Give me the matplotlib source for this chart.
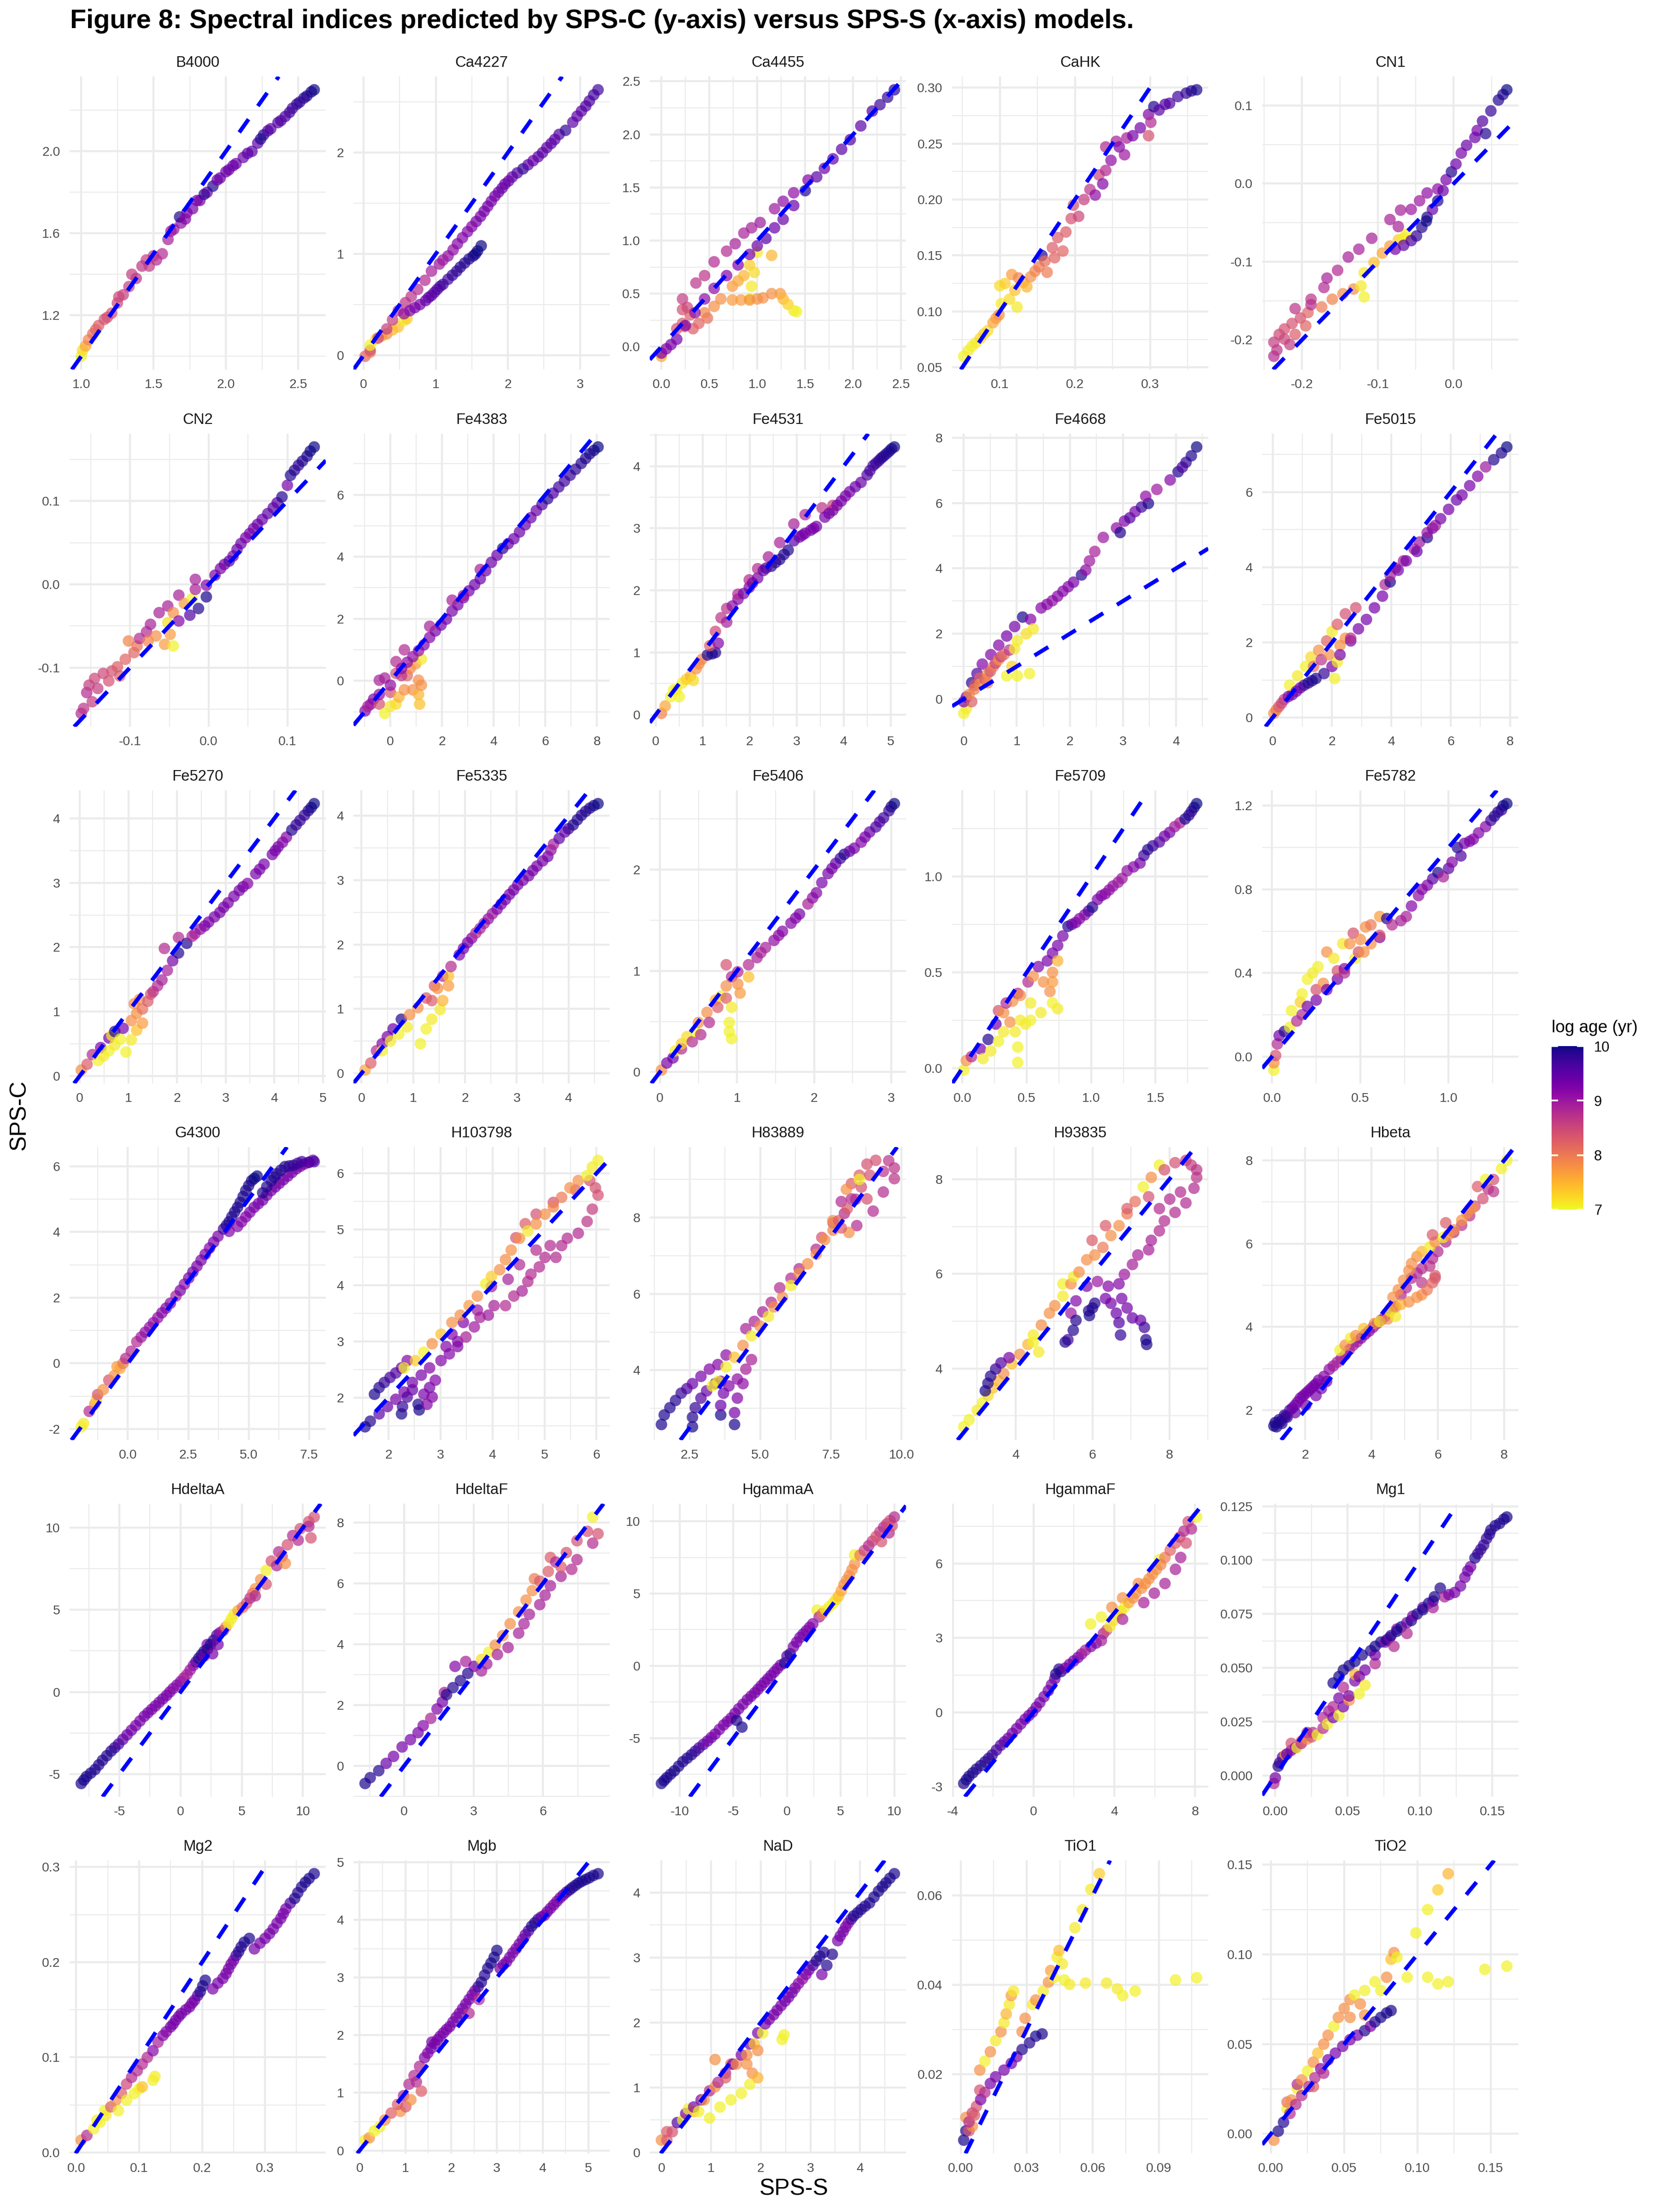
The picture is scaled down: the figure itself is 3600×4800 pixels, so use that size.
import numpy as np
import matplotlib
matplotlib.use("Agg")
import matplotlib.pyplot as plt
from matplotlib.colors import Normalize
from matplotlib.cm import ScalarMappable

plt.rcParams['font.family'] = ['Liberation Sans', 'DejaVu Sans']

# ---- data: (SPS-S, SPS-C, log age) ----
b4000 = [(1.00,1.00,7.05),(1.01,1.03,7.2),(1.03,1.05,7.6),(1.05,1.08,7.9),(1.08,1.11,8.1),(1.12,1.15,8.3),
         (1.16,1.18,8.4),(1.21,1.21,8.4),(1.25,1.26,8.5),(1.29,1.30,8.6),(1.33,1.34,8.6),(1.38,1.38,8.7),
         (1.42,1.44,8.7),(1.47,1.44,8.6),(1.52,1.47,8.8),(1.56,1.50,8.8),(1.60,1.57,8.9),(1.64,1.62,9.0),
         (1.69,1.65,9.1),(1.68,1.68,9.9),(1.73,1.70,9.2),(1.77,1.72,9.3),(1.82,1.76,9.3),(1.87,1.80,9.4),
         (1.91,1.83,9.9),(1.96,1.87,9.4),(2.02,1.91,9.4),(2.07,1.94,9.4),(2.12,1.97,9.4),(2.18,2.00,9.5),
         (2.22,2.04,9.5),(2.26,2.08,9.9),(2.31,2.11,9.5),(2.36,2.14,9.6),(2.41,2.17,9.6),(2.46,2.21,9.7),
         (2.51,2.24,9.8),(2.56,2.27,9.9),(2.61,2.30,10.0),
         (1.45,1.47,8.6),(1.50,1.49,8.7),(1.35,1.40,8.6),(1.26,1.29,8.5),(1.18,1.19,8.4),(1.10,1.13,8.2),
         (1.62,1.61,9.0),(1.72,1.67,9.2),(1.80,1.76,9.3),(1.85,1.79,9.8),(1.94,1.86,9.4),(2.00,1.90,9.4),
         (2.05,1.93,9.4),(2.15,1.99,9.5),(2.24,2.06,9.9),(2.29,2.10,9.6),(2.38,2.15,9.6),(2.44,2.19,9.7),
         (2.49,2.23,9.8),(2.54,2.26,9.85),(2.59,2.29,9.95)]

ca4227 = [(0.02,-0.01,8.2),(0.09,0.03,8.0),(0.09,0.05,8.4),(0.09,0.10,7.05),(0.17,0.16,7.2),(0.25,0.19,7.6),
          (0.32,0.21,7.8),(0.40,0.25,7.5),(0.48,0.28,7.4),(0.56,0.34,7.1),(0.60,0.36,7.3),
          (0.20,0.17,8.5),(0.32,0.26,8.6),(0.40,0.35,8.6),(0.48,0.44,8.7),(0.58,0.52,8.7),(0.66,0.58,8.7),
          (0.75,0.65,8.8),(0.85,0.74,8.8),(0.94,0.83,8.9),(1.05,0.90,9.0),(1.17,0.98,9.1),(1.30,1.10,9.2),
          (1.44,1.22,9.2),(1.56,1.32,9.3),(1.67,1.42,9.3),(1.77,1.52,9.3),(1.87,1.61,9.4),(1.96,1.69,9.4),
          (2.06,1.76,9.4),(2.21,1.84,9.9),(2.35,1.92,9.4),(2.48,2.00,9.5),(2.60,2.09,9.5),(2.71,2.18,9.6),
          (2.80,2.22,9.8),(2.90,2.30,9.5),(3.02,2.41,9.5),(3.13,2.51,9.6),(3.25,2.62,9.7),
          (1.10,0.94,9.0),(1.24,1.04,9.1),(1.37,1.16,9.2),(1.50,1.27,9.2),(1.62,1.37,9.3),(1.72,1.47,9.3),
          (1.82,1.57,9.3),(1.92,1.65,9.4),(2.01,1.72,9.4),(2.13,1.80,9.6),(2.28,1.88,9.5),(2.42,1.96,9.5),
          (2.54,2.05,9.5),(2.65,2.13,9.5),(2.96,2.36,9.5),(3.08,2.46,9.6),(3.19,2.57,9.7),
          (0.56,0.41,9.1),(0.64,0.44,9.2),(0.71,0.47,9.3),(0.78,0.50,9.3),(0.86,0.54,9.4),(0.90,0.57,9.5),
          (0.94,0.59,9.5),(0.98,0.62,9.5),(1.02,0.65,9.6),(1.06,0.68,9.6),(1.10,0.70,9.7),(1.17,0.75,9.7),
          (1.23,0.79,9.8),(1.29,0.83,9.8),(1.34,0.87,9.85),(1.40,0.91,9.9),(1.46,0.95,9.9),(1.52,0.98,9.95),
          (1.55,1.00,9.95),(1.58,1.03,10.0),(1.63,1.08,10.0)]

ca4455 = [(0.00,-0.09,7.6),(0.00,-0.06,9.3),(0.05,-0.02,9.2),(0.10,0.02,9.3),(0.16,0.07,9.3),
          (0.16,0.17,8.4),(0.22,0.22,8.3),(0.24,0.19,8.2),(0.33,0.17,8.3),(0.39,0.22,8.2),(0.48,0.27,8.1),
          (0.22,0.35,8.4),(0.27,0.37,8.5),(0.30,0.30,8.3),
          (0.45,0.32,7.9),(0.55,0.38,7.8),(0.62,0.45,7.8),(0.74,0.57,7.7),(0.80,0.62,7.6),(0.86,0.67,7.5),
          (0.92,0.77,7.3),(1.00,0.89,7.1),(1.15,0.86,7.5),(0.97,0.70,7.2),(0.94,0.57,7.1),(0.92,0.45,7.05),
          (0.74,0.44,7.7),(0.83,0.44,7.7),(0.92,0.44,7.8),(1.00,0.45,7.8),(1.06,0.46,7.8),(1.15,0.50,7.8),
          (1.24,0.50,7.7),(1.27,0.45,7.5),(1.32,0.40,7.3),(1.38,0.34,7.1),(1.41,0.33,7.05),
          (0.22,0.45,8.6),(0.36,0.60,8.7),(0.45,0.67,8.7),(0.55,0.80,8.8),(0.68,0.90,8.8),(0.77,0.97,8.9),
          (0.86,1.07,8.9),(0.94,1.12,8.9),(1.03,1.17,9.0),(1.18,1.30,9.0),(1.27,1.37,9.1),(1.38,1.45,9.1),
          (1.53,1.57,9.2),
          (0.25,0.20,9.2),(0.35,0.32,9.1),(0.45,0.45,9.1),(0.55,0.55,9.1),(0.68,0.67,9.2),(0.80,0.77,9.2),
          (0.92,0.87,9.3),(1.00,0.95,9.4),(1.09,1.02,9.5),(1.18,1.12,9.4),(1.27,1.20,9.4),(1.38,1.33,9.4),
          (1.50,1.47,9.9),(1.62,1.60,9.5),(1.70,1.68,9.4),(1.79,1.77,9.4),(1.88,1.86,9.5),(1.97,1.95,9.6),
          (2.08,2.08,9.5),(2.20,2.22,9.6),(2.28,2.28,9.7),(2.36,2.35,9.8),(2.43,2.42,9.9)]

cahk = [(0.052,0.060,7.05),(0.058,0.065,7.1),(0.063,0.069,7.05),(0.068,0.072,7.1),(0.074,0.076,7.2),
        (0.079,0.080,7.3),(0.084,0.083,7.2),(0.091,0.090,7.6),(0.095,0.094,7.7),(0.099,0.097,7.8),
        (0.102,0.107,7.1),(0.100,0.123,7.2),(0.107,0.125,7.3),(0.113,0.111,7.2),(0.120,0.119,7.4),
        (0.123,0.104,7.1),(0.116,0.133,7.7),(0.125,0.130,7.9),(0.131,0.126,7.6),(0.136,0.122,7.5),
        (0.141,0.131,7.8),(0.147,0.136,7.9),(0.152,0.140,8.0),(0.156,0.150,9.9),(0.160,0.145,8.1),
        (0.163,0.135,8.0),(0.170,0.157,8.3),(0.173,0.148,8.2),(0.177,0.166,8.3),(0.184,0.154,8.2),
        (0.188,0.171,8.3),(0.195,0.183,8.4),(0.198,0.195,8.4),(0.205,0.185,8.5),(0.212,0.200,8.6),
        (0.220,0.209,8.7),(0.227,0.204,9.1),(0.232,0.222,8.5),(0.237,0.214,9.2),(0.241,0.226,8.8),
        (0.241,0.247,8.8),(0.248,0.235,9.1),(0.255,0.252,8.9),(0.259,0.247,9.2),(0.266,0.240,9.0),
        (0.269,0.255,8.9),(0.277,0.257,9.3),(0.287,0.264,9.3),(0.298,0.257,8.4),(0.298,0.276,9.2),
        (0.301,0.269,8.8),(0.305,0.283,9.9),(0.312,0.280,9.5),(0.320,0.285,9.6),(0.326,0.286,9.6),
        (0.337,0.292,9.7),(0.348,0.295,9.8),(0.355,0.297,9.9),(0.362,0.298,9.95)]

cn1 = [(-0.237,-0.221,8.8),(-0.233,-0.213,8.7),(-0.237,-0.203,8.6),(-0.230,-0.193,8.5),(-0.223,-0.186,8.4),
       (-0.223,-0.199,8.5),(-0.216,-0.206,8.6),(-0.213,-0.179,8.4),(-0.209,-0.193,8.3),(-0.202,-0.172,8.4),
       (-0.195,-0.182,8.2),(-0.192,-0.165,8.2),(-0.188,-0.155,8.8),(-0.209,-0.160,8.7),(-0.188,-0.148,8.7),
       (-0.174,-0.158,8.0),(-0.160,-0.148,7.9),(-0.146,-0.141,7.8),(-0.132,-0.135,7.8),(-0.122,-0.131,7.1),
       (-0.118,-0.145,7.05),(-0.118,-0.114,7.1),(-0.105,-0.101,7.4),(-0.094,-0.089,7.6),(-0.084,-0.080,7.7),
       (-0.073,-0.072,7.3),(-0.063,-0.065,7.05),(-0.066,-0.070,7.1),
       (-0.171,-0.133,8.8),(-0.167,-0.121,8.9),(-0.153,-0.111,8.8),(-0.139,-0.094,8.9),(-0.125,-0.084,8.9),
       (-0.108,-0.070,8.9),(-0.084,-0.046,8.9),(-0.073,-0.055,8.9),(-0.070,-0.034,8.9),(-0.056,-0.033,9.0),
       (-0.045,-0.022,9.0),(-0.035,-0.012,9.1),(-0.021,-0.007,9.1),
       (-0.077,-0.084,9.3),(-0.066,-0.079,9.5),(-0.056,-0.073,9.6),(-0.049,-0.067,9.8),(-0.042,-0.056,9.9),
       (-0.036,-0.048,10.0),(-0.035,-0.043,9.95),
       (-0.028,-0.033,9.4),(-0.021,-0.022,9.9),(-0.014,-0.009,9.4),(-0.010,0.005,9.3),(-0.003,0.015,9.9),
       (0.003,0.025,9.4),(0.010,0.039,9.3),(0.017,0.049,9.4),(0.028,0.059,9.4),(0.031,0.068,9.3),
       (0.042,0.064,9.9),(0.038,0.080,9.6),(0.049,0.093,9.8),(0.059,0.107,9.9),(0.065,0.114,9.9),
       (0.070,0.120,10.0)]

cn2 = [(-0.162,-0.155,8.8),(-0.159,-0.149,8.7),(-0.148,-0.141,8.6),(-0.155,-0.130,8.8),(-0.152,-0.121,8.6),
       (-0.145,-0.113,8.5),(-0.141,-0.125,8.6),(-0.134,-0.107,8.5),(-0.127,-0.116,8.4),(-0.123,-0.104,8.4),
       (-0.116,-0.099,8.3),(-0.113,-0.110,8.3),(-0.106,-0.090,8.2),(-0.102,-0.068,7.9),(-0.095,-0.082,8.2),
       (-0.091,-0.074,8.1),(-0.088,-0.065,8.8),(-0.079,-0.057,8.8),(-0.077,-0.068,7.9),(-0.074,-0.048,8.9),
       (-0.067,-0.062,7.8),(-0.063,-0.034,8.9),(-0.056,-0.072,7.7),(-0.052,-0.046,7.2),(-0.052,-0.026,8.9),
       (-0.049,-0.060,7.7),(-0.045,-0.074,7.05),(-0.045,-0.034,7.8),(-0.038,-0.013,8.9),(-0.038,-0.044,9.2),
       (-0.031,-0.023,7.7),(-0.024,-0.037,9.6),(-0.021,-0.017,7.05),(-0.017,-0.006,8.9),(-0.017,0.006,8.9),
       (-0.013,-0.029,9.9),(-0.003,-0.015,9.95),(-0.003,-0.001,9.2),(0.008,0.011,9.3),(0.015,0.019,9.3),
       (0.020,0.024,9.3),(0.026,0.028,9.6),(0.031,0.034,9.3),(0.036,0.042,9.4),(0.041,0.049,9.4),
       (0.047,0.056,9.3),(0.052,0.061,9.3),(0.057,0.067,9.3),(0.062,0.072,9.4),(0.068,0.078,9.4),
       (0.075,0.085,9.5),(0.082,0.092,9.5),(0.087,0.098,9.5),(0.093,0.105,9.9),(0.100,0.119,9.3),
       (0.104,0.131,9.9),(0.109,0.137,9.9),(0.114,0.143,9.8),(0.119,0.148,9.9),(0.125,0.154,9.9),
       (0.129,0.160,10.0),(0.134,0.165,10.0)]

fe4383 = [(-0.98,-0.97,9.2),(-0.87,-0.82,8.9),(-0.76,-0.75,9.0),(-0.65,-0.59,9.2),(-0.43,-0.75,8.4),
          (-0.43,-0.44,9.1),(-0.43,0.02,8.9),(-0.22,0.09,8.9),(-0.22,-1.05,7.05),(0.00,-0.82,7.1),
          (0.22,-0.75,7.2),(0.00,-0.37,8.4),(0.00,-0.14,9.1),(0.33,-0.52,7.5),(0.54,-0.29,7.8),
          (0.87,-0.29,7.8),(1.09,-0.44,7.5),(1.13,-0.75,7.4),(1.20,-0.14,7.8),(1.09,0.02,7.8),
          (0.65,0.17,8.2),(0.22,0.24,8.4),(0.43,0.17,8.7),(0.76,0.40,7.9),(0.98,0.55,7.7),(1.20,0.70,7.1),
          (0.22,0.62,8.8),(0.54,1.00,8.8),(0.43,0.40,9.1),(0.65,0.60,9.1),
          (0.87,0.78,9.1),(1.09,0.97,9.1),(1.30,1.16,9.2),(1.52,1.40,9.2),(1.74,1.61,9.3),(1.96,1.80,9.3),
          (2.17,1.99,9.3),(2.39,2.25,9.3),(2.61,2.45,9.3),(2.83,2.68,9.3),(3.04,2.90,9.3),(3.26,3.10,9.4),
          (3.48,3.29,9.4),(3.69,3.55,9.4),(3.91,3.82,9.4),(4.13,4.05,9.4),(4.35,4.27,9.9),(4.56,4.42,9.4),
          (4.78,4.58,9.4),(5.00,4.80,9.4),(5.22,5.03,9.4),(5.44,5.26,9.4),(5.65,5.49,9.4),(5.87,5.68,9.6),
          (6.09,5.87,9.9),(6.30,6.05,9.6),(6.52,6.25,9.7),(6.74,6.44,9.7),(6.96,6.63,9.8),(7.17,6.82,9.85),
          (7.39,7.01,9.9),(7.56,7.17,9.9),(7.72,7.32,9.95),(7.88,7.43,9.95),(8.04,7.54,10.0),
          (1.52,1.76,8.9),(2.39,2.60,8.9),(3.48,3.59,8.9),(2.83,2.75,9.0)]

fe4531 = [(0.12,0.02,7.9),(0.20,0.14,7.6),(0.32,0.29,7.05),(0.38,0.40,7.05),(0.44,0.40,7.1),(0.50,0.29,7.05),
          (0.56,0.51,7.1),(0.65,0.57,7.3),(0.74,0.62,7.5),(0.80,0.55,7.2),(0.86,0.74,7.8),(0.92,0.82,7.8),
          (0.98,0.89,7.9),(1.10,0.96,9.9),(1.20,0.98,9.95),(1.27,1.00,9.9),(1.15,1.11,8.3),(1.27,1.34,8.5),
          (1.33,1.15,9.2),(1.39,1.56,8.7),(1.51,1.49,8.9),(1.51,1.71,8.7),(1.63,1.75,9.1),(1.75,1.86,9.2),
          (1.75,1.94,8.8),(1.87,1.95,9.3),(1.99,2.05,9.3),(1.99,2.17,8.8),(2.17,2.20,9.3),(2.17,2.35,8.8),
          (2.29,2.32,9.4),(2.40,2.54,8.9),(2.46,2.39,9.9),(2.55,2.45,9.8),(2.64,2.50,9.9),(2.64,2.77,8.9),
          (2.82,2.65,9.9),(2.94,2.80,9.5),(2.94,3.07,8.9),(3.06,2.86,9.4),(3.18,2.92,9.3),(3.18,3.22,8.8),
          (3.30,2.97,9.3),(3.42,3.03,9.3),(3.54,3.33,8.7),(3.60,3.18,9.3),(3.77,3.29,9.3),(3.77,3.37,8.6),
          (3.95,3.44,9.3),(4.13,3.59,9.3),(4.25,3.67,9.4),(4.37,3.74,9.4),(4.50,3.86,9.6),(4.63,4.01,9.7),
          (4.75,4.09,9.8),(4.85,4.16,9.9),(4.97,4.24,9.95),(5.08,4.31,10.0),
          (2.06,2.12,9.3),(2.35,2.36,9.6),(2.73,2.58,9.9),(3.12,2.89,9.3),(3.36,3.00,9.3),(3.69,3.24,9.3),
          (3.86,3.37,9.3),(4.04,3.52,9.3),(4.56,3.93,9.65),(4.69,4.05,9.75),(4.80,4.13,9.85),(4.91,4.20,9.9),
          (5.02,4.28,9.95)]

fe4668 = [(0.00,-0.44,7.05),(0.05,-0.29,7.1),(0.00,-0.08,9.2),(0.05,0.06,9.3),(0.15,-0.08,8.3),(0.10,0.14,7.8),
          (0.15,0.50,9.9),(0.20,0.42,8.4),(0.20,0.30,8.0),(0.25,0.78,9.6),(0.30,0.64,8.2),(0.30,0.45,7.9),
          (0.35,1.07,9.2),(0.40,0.60,8.3),(0.45,0.78,7.8),(0.45,0.50,7.9),(0.50,0.85,8.4),(0.51,1.36,9.2),
          (0.56,1.00,8.0),(0.60,1.10,8.5),(0.66,1.21,7.8),(0.66,1.65,9.2),(0.70,1.30,8.6),(0.76,1.36,8.1),
          (0.81,0.71,7.05),(0.81,1.93,9.3),(0.86,1.50,8.7),(0.91,1.00,7.3),(0.96,1.54,7.1),(0.96,2.22,9.3),
          (1.01,1.79,7.1),(1.01,0.71,7.05),(1.11,2.51,9.95),(1.18,2.00,7.2),(1.24,0.78,7.05),(1.26,2.44,9.2),
          (1.31,2.15,7.1),(1.46,2.79,9.2),(1.57,2.90,9.2),(1.67,3.01,9.1),(1.77,3.15,9.2),(1.87,3.30,9.2),
          (1.97,3.44,9.2),(2.07,3.58,9.3),(2.22,3.80,9.9),(2.30,3.95,9.1),(2.37,4.23,9.0),(2.47,4.52,8.9),
          (2.63,4.95,9.0),(2.88,5.24,9.1),(2.95,5.10,9.9),(3.03,5.45,9.2),(3.13,5.55,9.6),(3.23,5.74,9.3),
          (3.35,5.88,9.7),(3.48,5.99,9.95),(3.43,6.21,9.1),(3.64,6.42,9.0),(3.89,6.71,9.2),(4.04,6.96,9.9),
          (4.12,7.10,9.6),(4.19,7.25,9.8),(4.29,7.45,9.9),(4.39,7.72,10.0)]

fe5015 = [(0.04,0.11,7.8),(0.12,0.20,8.0),(0.21,0.29,8.3),(0.30,0.38,8.5),(0.39,0.48,8.6),(0.53,0.56,9.2),
          (0.66,0.61,9.3),(0.57,0.86,7.05),(0.80,0.70,9.3),(0.93,0.79,9.4),(0.84,1.11,7.1),(1.06,0.86,9.7),
          (1.20,0.92,9.9),(1.11,1.36,7.05),(1.33,0.98,9.9),(1.46,1.04,9.95),(1.29,1.61,7.2),(1.38,1.36,8.1),
          (1.55,1.79,7.8),(1.64,1.54,8.7),(1.73,1.17,9.8),(1.82,2.04,8.2),(1.91,1.67,7.8),(2.00,2.29,7.1),
          (2.00,1.36,9.3),(2.09,1.04,7.05),(2.18,1.48,7.1),(2.18,2.48,8.3),(2.27,1.92,7.8),(2.27,1.67,9.3),
          (2.45,2.11,7.8),(2.45,2.76,8.4),(2.63,2.04,9.3),(2.63,2.11,8.8),(2.80,2.92,8.4),(2.89,2.36,9.3),
          (3.16,2.61,9.3),(3.43,2.92,9.3),(3.70,3.23,9.3),(3.79,3.54,8.8),(3.96,3.61,9.9),(3.96,3.79,8.9),
          (4.14,3.98,8.9),(4.23,3.92,9.3),(4.41,4.17,8.9),(4.50,4.17,9.3),(4.77,4.48,8.9),(4.86,4.42,9.4),
          (4.95,4.67,9.0),(5.21,4.79,9.9),(5.21,4.92,9.0),(5.39,5.04,9.3),(5.48,5.11,9.0),(5.66,5.29,9.3),
          (5.93,5.54,9.3),(6.20,5.79,9.4),(6.38,5.92,9.3),(6.64,6.17,9.3),(6.91,6.42,9.2),(7.18,6.67,9.0),
          (7.45,6.86,9.9),(7.71,7.04,9.9),(7.89,7.20,10.0)]

fe5270 = [(0.03,0.09,7.8),(0.15,0.18,8.3),(0.26,0.33,8.8),(0.38,0.24,7.05),(0.43,0.44,9.2),(0.49,0.31,7.1),
          (0.60,0.59,9.3),(0.60,0.39,7.05),(0.66,0.63,7.1),(0.72,0.69,9.9),(0.72,0.48,7.1),(0.83,0.57,7.05),
          (0.89,0.74,9.3),(0.95,0.37,7.05),(1.06,0.56,7.1),(1.06,0.86,7.8),(1.12,1.12,7.8),(1.17,0.71,7.4),
          (1.17,0.97,7.8),(1.23,1.19,7.8),(1.29,0.82,7.7),(1.29,1.04,8.1),(1.40,1.16,8.3),(1.46,1.27,8.4),
          (1.51,1.31,8.7),(1.60,1.40,8.8),(1.69,1.49,8.9),(1.74,1.98,8.8),(1.80,1.64,8.9),(1.91,1.79,9.3),
          (2.03,1.91,9.9),(2.03,2.15,8.8),(2.20,2.06,9.9),(2.31,2.17,8.9),(2.37,2.21,8.9),(2.48,2.28,9.1),
          (2.57,2.33,9.2),(2.65,2.39,9.3),(2.77,2.47,9.3),(2.88,2.54,9.3),(2.96,2.62,9.3),(3.05,2.69,9.3),
          (3.17,2.79,9.3),(3.28,2.88,9.3),(3.36,2.94,9.3),(3.45,2.99,9.2),(3.62,3.14,9.3),(3.70,3.21,9.3),
          (3.79,3.29,9.3),(3.96,3.44,9.3),(4.02,3.50,9.3),(4.08,3.56,9.3),(4.17,3.63,9.2),(4.25,3.71,9.2),
          (4.36,3.82,9.9),(4.45,3.90,9.8),(4.53,3.97,9.8),(4.62,4.05,9.8),(4.70,4.12,9.9),(4.76,4.17,9.95),
          (4.82,4.23,10.0)]

fe5335 = [(0.07,0.05,7.6),(0.18,0.16,8.3),(0.29,0.35,8.8),(0.40,0.46,9.2),(0.40,0.35,7.05),(0.50,0.57,9.3),
          (0.56,0.50,7.1),(0.61,0.69,9.4),(0.72,0.61,7.05),(0.77,0.84,9.9),(0.88,0.72,7.1),(0.93,0.91,7.8),
          (1.09,1.02,7.8),(1.14,0.46,7.05),(1.25,0.69,7.05),(1.25,1.17,8.3),(1.36,0.84,7.1),(1.36,1.13,8.3),
          (1.41,1.36,8.3),(1.47,1.32,7.8),(1.52,0.99,7.1),(1.57,1.13,7.5),(1.57,1.51,8.8),(1.68,1.36,7.7),
          (1.68,1.51,7.4),(1.73,1.66,8.8),(1.89,1.84,9.2),(1.97,1.94,9.3),(2.05,2.03,9.3),(2.13,2.10,9.2),
          (2.21,2.18,8.8),(2.29,2.25,8.9),(2.37,2.33,8.9),(2.45,2.40,9.1),(2.53,2.48,9.0),(2.62,2.55,9.2),
          (2.70,2.63,9.3),(2.78,2.70,9.3),(2.86,2.78,9.3),(2.94,2.85,9.3),(3.02,2.93,9.3),(3.12,3.00,9.3),
          (3.23,3.07,9.3),(3.31,3.15,9.3),(3.39,3.22,9.3),(3.50,3.30,9.3),(3.60,3.37,9.3),(3.66,3.47,9.1),
          (3.71,3.56,8.9),(3.82,3.65,9.5),(3.93,3.75,9.4),(4.00,3.80,9.7),(4.09,3.86,9.9),(4.17,3.94,9.9),
          (4.25,4.01,9.9),(4.33,4.07,9.9),(4.41,4.12,9.9),(4.49,4.16,9.95),(4.57,4.19,10.0)]

fe5406 = [(0.02,0.02,7.8),(0.09,0.09,9.3),(0.17,0.14,9.3),(0.20,0.21,7.05),(0.28,0.23,8.8),(0.28,0.28,7.3),
          (0.35,0.35,7.2),(0.42,0.30,8.8),(0.46,0.40,7.05),(0.50,0.49,7.8),(0.53,0.37,8.8),(0.61,0.59,7.8),
          (0.64,0.49,8.8),(0.72,0.71,7.5),(0.75,0.64,8.3),(0.79,0.75,7.1),(0.86,0.73,8.3),(0.86,0.85,7.8),
          (0.86,1.06,8.4),(0.90,0.49,7.05),(0.90,0.40,7.05),(0.93,0.33,7.05),(0.93,0.64,7.1),(0.93,0.94,8.8),
          (1.01,0.87,7.8),(1.01,0.99,8.8),(1.04,0.78,7.7),(1.15,0.94,7.4),(1.15,1.06,8.8),(1.26,1.13,8.9),
          (1.31,1.18,8.9),(1.37,1.23,8.9),(1.48,1.30,9.1),(1.54,1.35,9.1),(1.59,1.39,9.2),(1.70,1.47,9.2),
          (1.76,1.52,9.2),(1.81,1.56,9.3),(1.92,1.66,8.9),(1.98,1.72,9.1),(2.03,1.77,9.2),(2.10,1.87,9.3),
          (2.18,1.96,9.3),(2.23,2.01,9.3),(2.28,2.06,9.4),(2.34,2.11,9.7),(2.39,2.15,9.9),(2.46,2.18,9.5),
          (2.52,2.21,9.3),(2.61,2.27,9.2),(2.66,2.32,9.3),(2.72,2.37,9.4),(2.80,2.42,9.6),(2.85,2.47,9.6),
          (2.90,2.51,9.7),(2.97,2.58,9.8),(3.00,2.62,9.9),(3.04,2.65,10.0)]

fe5709 = [(0.01,-0.01,7.05),(0.03,0.04,7.8),(0.07,0.06,8.8),(0.14,0.10,9.3),(0.16,0.05,7.1),(0.20,0.15,9.9),
          (0.22,0.09,7.1),(0.26,0.23,9.3),(0.28,0.14,7.05),(0.28,0.30,8.4),(0.32,0.19,7.1),(0.32,0.29,7.8),
          (0.34,0.34,8.8),(0.37,0.24,7.8),(0.39,0.35,7.8),(0.41,0.19,7.1),(0.43,0.11,7.05),(0.43,0.03,7.05),
          (0.43,0.39,8.8),(0.45,0.38,7.8),(0.45,0.25,7.1),(0.49,0.23,7.1),(0.51,0.45,8.8),(0.53,0.25,7.05),
          (0.53,0.34,7.1),(0.55,0.48,7.8),(0.59,0.53,9.2),(0.61,0.29,7.1),(0.63,0.45,7.8),(0.66,0.56,9.3),
          (0.68,0.40,7.8),(0.70,0.34,7.05),(0.70,0.45,7.7),(0.70,0.50,7.8),(0.70,0.60,9.3),(0.74,0.31,7.1),
          (0.74,0.56,7.5),(0.74,0.64,9.3),(0.78,0.69,9.3),(0.82,0.74,9.9),(0.85,0.75,9.5),(0.88,0.76,9.3),
          (0.91,0.78,9.2),(0.95,0.80,9.2),(0.98,0.82,9.6),(1.01,0.84,9.9),(1.05,0.88,9.3),(1.08,0.90,9.2),
          (1.11,0.91,9.2),(1.14,0.93,9.1),(1.17,0.95,9.1),(1.21,0.97,9.0),(1.24,0.99,9.0),(1.28,1.03,9.1),
          (1.33,1.05,9.2),(1.38,1.07,9.3),(1.41,1.11,9.7),(1.44,1.14,9.9),(1.48,1.16,9.8),(1.53,1.18,9.6),
          (1.57,1.21,9.4),(1.61,1.23,9.3),(1.65,1.26,9.0),(1.69,1.28,8.9),(1.73,1.30,9.9),(1.76,1.32,9.9),
          (1.78,1.34,9.8),(1.80,1.36,9.95),(1.82,1.38,10.0)]

fe5782 = [(0.01,-0.065,7.05),(0.01,-0.03,7.8),(0.02,0.005,8.4),(0.03,0.06,8.8),(0.04,0.10,9.3),(0.07,0.12,9.9),
          (0.10,0.14,7.05),(0.11,0.22,7.05),(0.14,0.17,8.8),(0.16,0.26,7.3),(0.17,0.20,8.8),(0.17,0.30,7.05),
          (0.20,0.24,9.3),(0.20,0.37,7.05),(0.23,0.40,7.1),(0.25,0.27,9.3),(0.25,0.32,8.4),(0.26,0.43,7.05),
          (0.29,0.35,7.8),(0.31,0.32,9.3),(0.31,0.50,7.8),(0.35,0.47,7.1),(0.37,0.37,9.3),(0.37,0.41,8.4),
          (0.40,0.54,7.1),(0.41,0.42,9.2),(0.41,0.40,8.8),(0.44,0.54,7.8),(0.46,0.59,8.4),(0.47,0.47,7.1),
          (0.49,0.50,8.4),(0.50,0.56,7.8),(0.52,0.50,7.8),(0.53,0.62,7.8),(0.56,0.54,7.8),(0.56,0.63,8.0),
          (0.61,0.57,9.3),(0.61,0.58,8.4),(0.61,0.67,7.7),(0.65,0.66,9.9),(0.68,0.63,8.8),(0.73,0.65,8.9),
          (0.76,0.67,8.9),(0.79,0.72,9.2),(0.83,0.77,9.1),(0.85,0.80,9.2),(0.88,0.82,9.2),(0.91,0.85,9.5),
          (0.94,0.88,9.9),(0.97,0.86,8.9),(1.00,0.90,9.5),(1.02,0.93,9.2),(1.05,1.00,9.9),(1.07,0.96,9.6),
          (1.09,1.02,9.3),(1.12,1.03,9.3),(1.14,1.04,9.2),(1.17,1.07,9.2),(1.21,1.10,9.2),(1.24,1.13,9.7),
          (1.26,1.15,9.9),(1.28,1.17,9.85),(1.30,1.18,9.8),(1.31,1.20,9.95),(1.33,1.21,10.0)]

g4300 = [(-1.93,-1.93,7.05),(-1.83,-1.83,7.1),(-1.60,-1.46,8.8),(-1.37,-1.24,7.8),(-1.30,-1.10,7.3),
         (-1.25,-0.95,8.4),(-1.02,-0.80,7.8),(-0.79,-0.51,8.4),(-0.56,-0.37,7.8),(-0.45,-0.10,7.7),
         (-0.32,-0.15,7.6),(-0.20,0.00,8.0),(-0.09,0.15,8.8),(0.14,0.37,8.8),(0.37,0.66,8.8),(0.55,0.80,9.0),
         (0.72,0.95,9.1),(0.90,1.10,9.1),(1.06,1.24,9.1),(1.24,1.39,9.1),(1.41,1.54,9.2),(1.58,1.68,9.2),
         (1.76,1.83,9.2),(1.99,2.05,8.9),(2.17,2.22,9.3),(2.34,2.41,9.1),(2.52,2.60,9.3),(2.69,2.78,9.3),
         (2.86,2.96,9.3),(3.03,3.14,9.3),(3.20,3.32,9.3),(3.38,3.51,9.2),(3.55,3.69,9.3),(3.73,3.87,9.3),
         (3.96,4.09,9.7),(4.08,4.20,9.9),(4.19,4.31,9.9),(4.30,4.46,9.9),(4.42,4.61,9.9),(4.54,4.75,9.95),
         (4.65,4.90,9.95),(4.77,5.08,9.95),(4.88,5.26,9.95),(5.00,5.41,9.95),(5.12,5.56,9.95),(5.23,5.63,10.0),
         (5.35,5.70,10.0),
         (4.19,4.02,9.2),(4.54,4.17,9.2),(4.71,4.31,9.2),(4.88,4.46,9.2),(5.05,4.60,9.25),(5.23,4.75,9.3),
         (5.40,4.86,9.3),(5.58,4.97,9.3),(5.75,5.12,9.3),(5.93,5.26,9.3),(6.10,5.37,9.3),(6.27,5.48,9.3),
         (6.44,5.59,9.3),(6.62,5.70,9.3),(6.79,5.81,9.3),(6.97,5.92,9.3),(7.14,6.00,9.3),(7.31,6.07,9.3),
         (7.48,6.12,9.3),(7.50,6.12,9.5),(7.66,6.18,9.5),(7.71,6.14,9.6),
         (5.58,5.19,9.9),(5.75,5.38,9.9),(5.93,5.56,9.9),(6.05,5.67,9.9),(6.16,5.77,9.9),(6.33,5.88,9.9),
         (6.50,5.99,9.9),(6.68,6.01,9.85),(6.85,6.03,9.8),(7.03,6.09,9.75),(7.20,6.14,9.7)]

h103798 = [(1.73,2.06,9.95),(1.82,2.18,9.9),(1.92,2.27,9.8),(2.03,2.36,9.7),(2.14,2.44,9.6),(2.25,2.53,9.4),
           (2.36,2.66,9.2),
           (1.55,1.48,9.95),(1.65,1.58,9.9),(1.82,1.71,9.5),(1.98,1.84,9.4),(2.14,1.97,9.3),(2.30,2.10,9.3),
           (2.46,2.27,9.3),(2.63,2.40,9.3),(2.79,2.53,9.2),(3.01,2.66,9.2),(3.17,2.78,9.2),(3.33,2.91,9.2),
           (2.25,1.71,9.95),(2.27,1.84,9.8),(2.36,2.01,9.6),(2.46,2.14,9.4),(2.57,1.88,9.9),(2.59,1.78,9.95),
           (2.68,2.06,9.3),(2.79,2.18,9.3),(2.90,2.31,9.2),(2.74,1.88,9.2),(2.84,2.01,9.2),
           (3.11,2.91,9.2),(3.33,3.00,9.2),(3.49,3.08,8.9),(3.65,3.26,9.0),(3.76,3.43,8.9),(3.92,3.47,9.0),
           (4.03,3.64,8.9),(4.25,3.64,8.8),(4.41,3.81,8.8),(4.57,3.90,8.9),(4.68,4.07,8.8),(4.74,4.20,8.8),
           (4.90,4.33,8.8),(5.01,4.50,8.8),(5.22,4.50,8.8),(5.33,4.71,8.8),(5.44,4.84,8.8),(5.65,4.93,8.8),
           (5.82,5.14,8.7),(5.92,5.36,8.6),(6.03,5.61,8.4),(5.98,5.74,8.4),(5.87,5.87,8.4),(5.11,4.71,8.8),
           (4.84,4.63,8.8),(4.52,4.37,8.8),(4.30,4.11,8.9),(3.98,3.98,8.9),(3.71,3.56,9.0),(3.44,3.34,9.2),
           (3.22,3.13,9.2),
           (5.17,5.48,8.4),(4.63,5.10,8.3),(4.84,5.27,8.4),(5.60,5.70,8.3),(4.45,4.85,8.4),
           (2.30,2.53,7.05),(2.52,2.66,7.3),(2.68,2.81,7.05),(2.84,2.96,7.8),(3.01,3.13,7.4),(3.22,3.34,7.8),
           (3.38,3.47,7.8),(3.55,3.64,7.7),(3.71,3.81,7.8),(3.87,4.03,7.05),(3.98,4.16,7.3),(4.14,4.28,7.8),
           (4.25,4.46,7.8),(4.36,4.63,7.8),(4.52,4.84,7.8),(4.68,4.97,7.1),(4.84,5.10,7.8),(5.01,5.27,7.8),
           (5.17,5.40,7.9),(5.33,5.57,8.0),(5.49,5.74,7.8),(5.65,5.87,7.8),(5.82,5.96,7.05),(5.92,6.11,7.1),
           (6.03,6.23,7.05)]

h83889 = [(1.50,2.58,9.95),(1.60,2.83,9.95),(1.80,3.02,9.9),(2.00,3.21,9.9),(2.20,3.40,9.8),(2.40,3.52,9.6),
          (2.60,3.65,9.4),(2.90,3.84,9.3),(3.20,4.03,9.2),(3.50,4.15,9.2),(3.79,4.40,9.1),
          (2.60,2.52,9.95),(2.60,2.77,9.9),(2.70,3.02,9.8),(2.90,3.27,9.6),(3.10,3.46,9.4),(3.40,3.65,9.3),
          (3.60,3.71,9.3),
          (3.60,2.83,9.95),(3.60,3.08,9.4),(3.70,3.40,9.3),(3.89,3.59,9.2),(4.19,3.77,9.1),(4.49,4.03,8.9),
          (4.69,4.28,8.9),
          (4.09,2.58,9.95),(4.09,2.89,9.3),(4.19,3.27,9.2),(4.39,3.65,9.1),
          (4.49,5.09,8.9),(4.79,5.28,8.9),(5.09,5.53,8.9),(5.39,5.78,8.8),(5.69,6.16,8.8),(6.09,6.41,8.8),
          (6.38,6.66,8.8),(6.98,7.17,8.8),(7.18,7.48,8.4),(7.58,7.86,8.5),(7.98,8.11,8.8),(8.38,8.48,8.8),
          (8.58,8.80,8.4),(8.88,9.11,8.4),
          (8.78,9.40,8.4),(9.09,9.50,8.4),(9.55,9.49,8.7),(9.75,9.30,8.7),(9.75,9.02,8.7),(9.36,9.21,8.7),
          (9.36,8.67,8.8),(9.00,8.17,8.8),(8.78,8.49,8.4),(8.23,8.49,8.8),(8.51,9.11,8.3),(8.23,8.89,8.3),
          (8.05,8.74,7.8),(7.87,8.42,8.8),(8.42,7.79,8.8),(8.14,7.61,7.8),(7.87,7.73,8.3),(7.57,7.92,7.8),
          (3.30,3.59,7.05),(3.50,3.71,7.1),(3.79,4.09,7.05),(4.09,4.34,7.4),(4.39,4.65,7.8),(4.69,4.90,7.1),
          (4.99,5.16,7.8),(5.29,5.41,7.1),(5.49,5.66,7.8),(5.79,5.91,7.8),(6.09,6.22,7.1),(6.38,6.54,7.8),
          (6.68,6.79,7.8),(6.98,7.04,7.8),(7.28,7.42,7.8),(7.58,7.67,7.9),(7.78,7.92,8.3),(8.08,8.23,8.3),
          (8.51,9.00,7.05)]

h93835 = [(2.65,2.77,7.05),(2.79,2.92,7.05),(3.00,3.12,7.1),(3.14,3.28,7.05),(3.28,3.43,7.2),(3.41,3.59,7.4),
          (3.55,3.74,7.5),(3.69,3.89,7.8),(3.90,4.10,7.4),(4.11,4.30,7.8),(4.32,4.51,7.5),(4.46,4.71,7.1),
          (4.46,4.56,7.05),(4.60,4.35,7.1),(4.67,4.92,7.8),(4.88,5.17,7.8),(5.02,5.33,7.8),(5.23,5.53,7.1),
          (5.23,5.79,7.05),(5.44,5.79,7.8),(5.51,5.94,7.1),(5.65,6.04,7.8),(5.85,6.30,7.8),(6.06,6.40,7.8),
          (6.27,6.56,8.0),(6.48,6.81,7.8),(6.69,7.02,7.8),(6.90,7.27,8.0),(7.11,7.53,8.1),(7.32,7.84,7.05),
          (7.53,8.04,7.8),(7.74,8.30,7.05),
          (5.99,6.71,8.3),(6.34,7.02,8.3),(6.90,7.38,8.3),(7.46,7.63,8.4),(7.87,8.20,8.4),(8.15,8.35,8.4),
          (8.43,8.40,8.5),(8.57,8.30,8.6),(8.71,8.20,8.7),(8.71,8.04,8.7),(8.64,7.81,8.8),(8.43,7.50,8.8),
          (8.15,7.30,8.8),(7.87,7.12,8.8),(7.74,6.91,8.8),(7.53,6.71,8.9),(7.46,6.51,8.9),(7.18,6.40,8.9),
          (7.04,6.20,8.9),(6.83,5.99,9.0),(6.69,5.79,9.2),(6.41,5.74,9.2),(6.13,5.84,9.0),(5.85,5.74,9.2),
          (5.57,5.43,9.2),(5.44,5.17,9.0),(7.74,7.38,8.8),(8.01,7.58,8.8),(8.29,7.73,8.8),
          (5.57,5.02,9.9),(5.50,4.81,9.9),(5.36,4.61,9.7),(5.29,4.56,9.9),(6.06,5.38,9.9),(5.92,5.12,9.95),
          (5.90,5.22,9.9),(6.00,5.28,9.9),(6.34,5.48,9.3),(6.48,5.38,9.3),(6.62,5.17,9.4),(6.69,4.97,9.6),
          (6.73,4.71,9.8),(6.76,5.48,9.3),(6.90,5.28,9.3),(7.04,5.07,9.4),(7.25,5.02,9.4),(7.35,4.87,9.7),
          (7.39,4.61,9.9),(7.41,4.51,9.95),
          (3.21,3.53,9.95),(3.28,3.69,9.9),(3.35,3.84,9.9),(3.48,3.99,9.8),(3.62,4.12,9.6),(3.83,4.23,9.3)]

hbeta = [(1.06,1.62,9.95),(1.10,1.70,9.95),(1.14,1.60,9.95),(1.22,1.77,9.9),(1.26,1.73,9.9),(1.30,1.68,9.9),
         (1.38,1.88,9.8),(1.42,1.85,9.85),(1.46,1.83,9.8),(1.54,2.00,9.6),(1.62,2.05,9.5),(1.70,2.12,9.3),
         (1.70,1.94,9.4),(1.78,2.20,9.3),(1.86,2.29,9.3),(1.94,2.34,9.3),(2.02,2.40,9.3),(2.02,2.12,9.3),
         (2.10,2.46,9.3),(2.18,2.52,9.3),(2.26,2.58,9.3),(2.33,2.63,9.3),(2.33,2.35,9.3),(2.41,2.72,9.3),
         (2.49,2.52,9.3),(2.57,2.81,9.2),(2.65,2.69,9.3),(2.73,2.98,9.1),(2.85,3.06,9.0),(2.97,3.15,8.9),
         (3.09,3.24,8.9),(3.21,3.33,8.9),(3.33,3.45,8.9),(3.45,3.56,8.9),(3.57,3.64,9.0),(3.69,3.73,9.2),
         (3.81,3.82,9.2),(3.93,3.90,9.2),(4.05,3.99,9.1),(4.17,4.08,8.9),(4.29,4.16,8.9),(4.41,4.25,8.9),
         (4.53,4.36,8.8),(4.65,4.48,8.8),(4.89,4.77,8.8),(5.05,4.94,8.8),(5.21,5.17,8.8),
         (5.37,5.29,8.8),(5.52,5.40,8.8),(5.52,5.06,8.7),(5.76,5.46,8.7),(5.84,5.64,8.8),(5.92,5.17,8.4),
         (6.00,5.81,8.8),(6.24,6.04,8.8),(6.48,6.27,8.8),(6.72,6.44,8.7),(6.96,6.67,8.7),(7.12,6.90,8.4),
         (7.36,7.08,8.4),(7.52,7.31,8.7),(7.68,7.54,8.4),(7.68,7.25,8.7),
         (3.05,3.44,7.05),(3.21,3.56,7.8),(3.37,3.73,7.1),(3.53,3.79,7.8),(3.77,3.96,7.4),(4.09,4.08,7.8),
         (4.25,4.13,7.1),(4.49,4.19,7.8),(4.57,4.37,7.05),(4.73,4.25,7.1),(4.73,4.48,7.8),(4.89,4.54,7.5),
         (5.13,4.60,7.8),(5.37,4.71,7.8),(5.52,4.77,7.8),(5.68,4.89,8.0),(5.84,5.06,8.2),(5.92,5.23,8.3),
         (4.65,4.71,7.8),(4.81,4.89,7.8),(4.97,5.12,7.8),(5.13,5.35,7.8),(5.21,5.52,7.8),(5.37,5.69,7.8),
         (5.52,5.81,7.5),(5.76,5.92,7.1),(5.92,6.04,7.8),(6.16,6.15,7.05),(6.32,6.21,7.8),(6.48,6.33,7.8),
         (6.72,6.56,7.8),(6.88,6.73,7.8),(7.04,6.85,7.8),(7.20,7.37,8.3),(7.44,7.54,7.05),(7.92,7.80,7.05),
         (8.08,8.00,7.05),(5.84,6.21,8.3),(6.24,6.50,8.3)]

hdeltaa = [(-8.12,-5.57,9.95),(-7.90,-5.36,9.95),(-7.69,-5.15,9.95),(-7.34,-4.94,9.95),(-6.99,-4.72,9.9),
           (-6.69,-4.44,9.9),(-6.38,-4.16,9.9),(-6.03,-3.88,9.9),(-5.68,-3.60,9.9),(-5.38,-3.39,9.8),
           (-5.07,-3.17,9.7),(-4.72,-2.89,9.5),(-4.37,-2.61,9.4),(-4.02,-2.33,9.35),(-3.67,-2.05,9.3),
           (-3.32,-1.77,9.3),(-2.97,-1.48,9.3),(-2.67,-1.27,9.3),(-2.36,-1.06,9.3),(-2.06,-0.85,9.3),
           (-1.75,-0.63,9.3),(-1.45,-0.42,9.3),(-1.14,-0.21,9.3),(-0.88,0.00,9.25),(-0.61,0.21,9.2),
           (-0.30,0.42,9.2),(0.00,0.63,9.2),(0.26,0.85,9.0),(0.52,1.06,8.9),(0.78,1.34,9.0),(1.05,1.62,9.1),
           (1.26,1.83,9.5),(1.48,2.05,9.9),(1.70,2.26,9.9),(1.92,2.47,9.9),(1.92,2.19,9.3),(2.18,2.89,9.3),
           (2.20,2.60,9.9),(2.45,2.89,9.9),(2.62,2.33,9.3),(2.70,3.15,9.8),(2.97,3.46,9.7),(3.06,2.89,9.3),
           (3.20,3.60,9.2),(3.49,3.74,9.0),(3.70,3.95,8.0),(3.93,4.16,7.05),(4.15,4.45,7.1),(4.37,4.72,7.1),
           (4.70,4.95,7.6),(5.07,5.15,8.1),(5.40,5.40,8.4),(5.68,5.71,8.8),(5.90,6.00,8.3),(6.11,6.28,7.8),
           (6.11,5.85,8.8),(6.55,6.84,7.8),(6.99,7.40,7.05),(6.99,6.56,8.4),(7.42,7.97,8.4),(7.86,7.69,8.8),
           (8.03,8.53,8.8),(8.30,8.25,8.4),(8.56,7.83,7.8),(8.73,8.96,8.4),(9.17,9.52,8.8),(9.61,9.24,8.8),
           (9.78,9.94,8.4),(10.48,10.37,8.4),(10.48,10.08,8.8),(10.66,9.38,8.4),(10.92,10.65,8.4)]

hdeltaf = [(-1.69,-0.58,9.95),(-1.47,-0.39,9.9),(-1.10,-0.16,9.9),(-0.78,0.08,9.4),(-0.46,0.31,9.3),
           (-0.09,0.62,9.3),(0.27,0.86,9.3),(0.60,1.09,9.3),(0.82,1.32,9.2),(1.15,1.56,8.9),(1.42,1.87,9.2),
           (1.65,2.10,9.3),(1.74,2.41,8.9),(1.83,2.34,9.9),(2.11,2.57,9.9),(2.20,3.27,9.2),(2.43,2.80,9.9),
           (2.66,3.43,8.9),(2.75,3.04,9.9),(3.02,3.27,9.3),(3.34,3.50,7.2),(3.34,3.12,8.9),(3.57,3.35,8.9),
           (3.66,3.74,7.05),(3.94,3.97,7.8),(4.03,3.66,8.9),(4.26,4.28,7.8),(4.49,3.89,8.9),(4.58,4.67,7.8),
           (4.95,5.06,7.8),(4.95,4.36,8.9),(5.18,4.67,8.9),(5.27,5.45,7.8),(5.41,4.98,8.9),(5.54,5.76,7.8),
           (5.63,6.15,8.0),(5.86,6.07,8.3),(5.86,5.30,8.9),(6.09,5.61,8.9),(6.23,6.39,8.3),(6.32,5.92,8.9),
           (6.32,6.85,8.3),(6.55,6.70,8.8),(6.78,6.23,8.9),(6.78,6.54,8.3),(7.01,7.01,8.4),(7.24,6.46,8.8),
           (7.47,7.40,8.4),(7.47,6.78,8.8),(7.92,7.71,8.4),(8.15,8.18,7.05),(8.15,7.32,8.8),(8.38,7.63,8.4)]

hgammaa = [(-11.7,-8.14,9.95),(-11.45,-7.94,9.95),(-11.2,-7.74,9.95),(-10.85,-7.50,9.95),(-10.5,-7.27,9.95),
           (-10.1,-6.95,9.95),(-9.7,-6.63,9.9),(-9.3,-6.39,9.9),(-8.9,-6.15,9.9),(-8.55,-5.91,9.8),
           (-8.2,-5.68,9.7),(-7.8,-5.44,9.5),(-7.4,-5.20,9.4),(-7.05,-4.96,9.35),(-6.7,-4.72,9.3),
           (-6.3,-4.40,9.3),(-5.9,-4.09,9.3),(-5.55,-3.85,9.3),(-5.2,-3.61,9.3),(-4.85,-3.29,9.3),
           (-4.7,-3.77,9.9),(-4.2,-4.24,9.95),(-4.5,-2.97,9.3),(-4.1,-2.66,9.3),(-3.7,-2.34,9.3),
           (-3.35,-2.10,9.3),(-3.0,-1.86,9.3),(-2.7,-1.62,9.3),(-2.4,-1.38,9.3),(-2.1,-1.14,9.3),
           (-1.8,-0.91,9.3),(-1.5,-0.67,9.3),(-1.2,-0.43,9.3),(-0.9,-0.19,9.3),(-0.6,0.05,9.3),(-0.2,0.21,9.9),
           (0.0,0.68,9.6),(0.3,0.84,9.9),(0.6,1.32,9.3),(0.9,1.64,9.3),(1.2,1.96,9.3),(1.5,2.20,9.3),
           (1.8,2.43,9.3),(2.1,2.67,9.25),(2.4,2.91,9.2),(2.8,3.86,7.05),(3.0,3.39,8.9),(3.3,3.62,8.0),
           (3.6,3.86,7.1),(3.95,4.10,7.05),(4.3,4.34,7.05),(4.55,4.58,7.2),(4.8,4.82,7.4),(5.05,5.20,7.6),
           (5.3,5.61,7.8),(5.55,5.93,7.8),(5.8,6.25,7.8),(6.05,6.65,7.8),(6.3,7.04,7.8),(6.3,7.68,7.05),
           (6.8,7.66,8.0),(7.2,7.98,8.5),(7.6,8.31,8.8),(7.95,8.63,8.6),(8.3,8.95,8.4),(8.65,9.27,8.6),
           (8.8,8.60,8.4),(9.0,9.59,8.8),(9.3,9.83,8.6),(9.5,9.20,8.8),(9.6,10.06,8.4),(9.8,9.70,8.4),
           (10.0,10.30,8.8)]

hgammaf = [(-3.46,-2.87,9.95),(-3.33,-2.72,9.95),(-3.20,-2.58,9.95),(-3.01,-2.44,9.95),(-2.83,-2.29,9.9),
           (-2.62,-2.15,9.9),(-2.41,-2.00,9.9),(-2.23,-1.86,9.85),(-2.05,-1.72,9.8),(-1.84,-1.52,9.7),
           (-1.63,-1.33,9.6),(-1.44,-1.19,9.5),(-1.26,-1.05,9.4),(-1.05,-0.85,9.35),(-0.84,-0.66,9.3),
           (-0.63,-0.47,9.3),(-0.42,-0.28,9.3),(-0.23,-0.13,9.3),(-0.05,0.01,9.3),(0.13,0.20,9.3),
           (0.31,0.39,9.3),(0.52,0.63,9.3),(0.73,0.87,9.3),(0.89,1.11,9.3),(1.05,1.35,9.3),(1.10,1.54,9.9),
           (1.26,1.74,9.9),(1.36,1.64,9.9),(1.57,1.78,9.3),(1.78,1.93,9.3),(1.99,2.07,9.3),(2.20,2.21,9.3),
           (2.38,2.35,9.1),(2.57,2.50,8.9),(2.83,3.56,7.05),(2.84,2.65,9.2),(3.10,2.79,9.3),(3.36,2.89,8.9),
           (3.36,3.84,7.05),(3.46,3.17,8.9),(3.62,3.31,8.4),(3.78,3.46,7.1),(3.88,4.23,7.8),(3.96,3.70,7.2),
           (4.14,3.94,7.05),(4.33,4.08,7.3),(4.41,3.75,8.9),(4.41,4.61,7.8),(4.51,4.23,7.05),(4.72,4.42,7.6),
           (4.93,4.61,7.8),(5.06,4.80,7.8),(5.19,5.19,7.8),(5.35,5.00,7.8),(5.46,4.42,8.9),(5.54,5.19,7.8),
           (5.72,5.38,7.8),(5.90,5.57,7.8),(5.98,4.80,8.9),(6.09,5.76,7.8),(6.24,6.15,7.05),(6.30,5.95,7.9),
           (6.51,6.24,8.0),(6.51,5.19,8.9),(6.77,6.53,8.2),(7.03,6.82,8.3),(7.03,5.76,8.9),(7.24,7.06,8.5),
           (7.29,6.24,8.9),(7.45,7.30,8.8),(7.56,6.82,8.4),(7.66,7.68,8.4),(7.82,7.39,8.8),(8.08,7.87,7.05)]

mg1 = [(-0.001,-0.0036,8.8),(0.000,-0.001,9.3),(0.002,0.0044,9.9),(0.003,0.006,9.8),(0.005,0.0086,9.6),
       (0.007,0.0097,7.8),(0.008,0.010,9.4),(0.011,0.0118,9.3),(0.011,0.015,8.4),(0.014,0.013,9.1),
       (0.015,0.013,7.05),(0.018,0.015,8.8),(0.018,0.016,8.3),(0.022,0.017,7.8),(0.022,0.020,8.8),
       (0.025,0.018,8.4),(0.026,0.020,8.8),(0.029,0.019,7.05),(0.033,0.022,8.8),(0.033,0.027,8.8),
       (0.036,0.024,7.05),(0.037,0.030,9.0),(0.040,0.027,9.3),(0.040,0.032,8.8),(0.040,0.043,9.95),
       (0.044,0.028,7.05),(0.044,0.036,9.3),(0.044,0.046,9.95),(0.047,0.032,9.3),(0.047,0.041,8.8),
       (0.047,0.049,9.95),(0.051,0.035,7.8),(0.051,0.037,9.3),(0.051,0.051,9.95),(0.055,0.044,9.3),
       (0.055,0.047,7.5),(0.055,0.053,9.95),(0.058,0.038,7.05),(0.058,0.046,9.3),(0.060,0.056,9.95),
       (0.062,0.042,7.1),(0.062,0.049,9.3),(0.066,0.058,9.9),(0.069,0.052,8.8),(0.069,0.056,9.3),
       (0.069,0.060,9.95),(0.073,0.062,9.95),(0.076,0.062,9.3),(0.077,0.063,9.95),(0.079,0.064,9.3),
       (0.080,0.065,9.9),(0.082,0.060,8.8),(0.084,0.068,9.3),(0.084,0.067,9.95),(0.087,0.069,9.95),
       (0.091,0.066,8.8),(0.091,0.071,9.3),(0.094,0.072,9.95),(0.095,0.074,9.3),(0.098,0.075,9.9),
       (0.102,0.078,9.3),(0.102,0.077,9.95),(0.106,0.080,9.95),(0.109,0.078,8.9),(0.109,0.081,9.5),
       (0.110,0.083,9.95),(0.114,0.087,9.9),(0.117,0.083,8.9),(0.120,0.084,9.3),(0.124,0.085,9.3),
       (0.128,0.088,9.3),(0.131,0.092,9.3),(0.133,0.095,9.4),(0.135,0.097,9.3),(0.138,0.101,9.9),
       (0.140,0.103,9.8),(0.142,0.105,9.8),(0.144,0.107,9.8),(0.146,0.110,9.8),(0.148,0.112,9.85),
       (0.149,0.114,9.9),(0.152,0.116,9.9),(0.155,0.117,9.9),(0.158,0.119,9.95),(0.160,0.120,9.95)]

mg2 = [(0.008,0.013,7.8),(0.017,0.018,8.8),(0.028,0.025,7.05),(0.033,0.034,7.05),(0.038,0.032,7.05),
       (0.045,0.044,7.05),(0.047,0.039,7.1),(0.055,0.048,8.3),(0.063,0.055,7.8),(0.067,0.044,7.05),
       (0.072,0.062,8.3),(0.080,0.072,8.5),(0.080,0.055,7.05),(0.088,0.079,8.8),(0.092,0.062,7.05),
       (0.097,0.086,8.8),(0.100,0.067,7.05),(0.105,0.093,8.8),(0.105,0.069,7.4),(0.113,0.100,8.8),
       (0.122,0.107,9.2),(0.122,0.076,7.05),(0.125,0.080,7.1),(0.130,0.116,8.9),(0.138,0.123,9.2),
       (0.143,0.127,9.2),(0.150,0.132,9.3),(0.154,0.135,9.3),(0.158,0.139,9.3),(0.163,0.143,9.3),
       (0.167,0.146,9.3),(0.174,0.150,9.3),(0.180,0.153,9.3),(0.184,0.157,9.3),(0.188,0.160,9.3),
       (0.193,0.165,9.5),(0.197,0.169,9.9),(0.201,0.175,9.9),(0.205,0.181,9.95),(0.217,0.172,9.3),
       (0.225,0.178,9.3),(0.233,0.183,9.3),(0.238,0.188,9.3),(0.242,0.193,9.3),(0.246,0.198,9.3),
       (0.250,0.202,9.3),(0.254,0.207,9.6),(0.258,0.211,9.9),(0.262,0.216,9.9),(0.267,0.221,9.95),
       (0.275,0.225,9.95),(0.283,0.214,9.3),(0.292,0.220,9.3),(0.300,0.225,9.3),(0.307,0.230,9.3),
       (0.313,0.235,9.3),(0.319,0.241,9.3),(0.325,0.246,9.3),(0.329,0.251,9.3),(0.333,0.256,9.3),
       (0.340,0.262,9.6),(0.347,0.267,9.9),(0.352,0.273,9.9),(0.358,0.279,9.9),(0.364,0.284,9.95),
       (0.370,0.288,9.95),(0.378,0.293,9.95)]

mgb = [(0.12,0.18,7.05),(0.21,0.22,7.8),(0.32,0.34,7.05),(0.44,0.41,7.05),(0.55,0.53,7.8),(0.69,0.65,8.3),
       (0.89,0.68,7.8),(0.83,0.80,8.3),(1.01,0.76,8.3),(0.96,0.95,8.8),(1.12,0.88,7.8),(1.08,1.15,8.8),
       (1.24,1.19,8.8),(1.19,1.30,8.8),(1.35,1.03,8.3),(1.31,1.46,8.8),(1.42,1.61,9.2),(1.49,1.69,9.2),
       (1.56,1.77,9.3),(1.58,1.88,9.3),(1.64,1.85,9.3),(1.70,1.92,9.3),(1.76,1.98,9.3),(1.83,2.04,9.3),
       (1.90,2.10,9.3),(1.97,2.15,9.3),(2.04,2.23,9.3),(2.11,2.31,9.3),(2.18,2.38,9.3),(2.25,2.46,9.3),
       (2.32,2.54,9.3),(2.39,2.38,8.8),(2.39,2.62,9.3),(2.46,2.70,9.3),(2.52,2.77,9.3),(2.59,2.84,9.7),
       (2.61,2.62,8.8),(2.66,2.92,9.9),(2.73,3.04,9.9),(2.80,3.16,9.9),(2.87,3.25,9.95),(2.94,3.35,9.95),
       (3.00,3.47,9.95),(3.07,3.16,9.3),(3.14,3.22,9.3),(3.21,3.27,9.3),(3.28,3.35,9.3),(3.35,3.43,9.3),
       (3.42,3.50,9.3),(3.49,3.58,9.3),(3.56,3.66,9.3),(3.62,3.74,9.4),(3.69,3.81,9.6),(3.76,3.89,9.9),
       (3.83,3.95,9.9),(3.90,4.01,9.8),(3.97,4.05,9.5),(4.04,4.08,9.3),(4.10,4.14,9.3),(4.17,4.20,9.3),
       (4.24,4.26,9.3),(4.31,4.32,9.3),(4.38,4.38,9.3),(4.45,4.43,9.4),(4.52,4.48,9.6),(4.59,4.52,9.9),
       (4.65,4.56,9.9),(4.72,4.60,9.9),(4.79,4.64,9.95),(4.86,4.67,9.95),(4.94,4.70,9.95),(5.02,4.73,9.95),
       (5.11,4.77,9.95),(5.21,4.80,9.95)]

nad = [(0.00,0.19,7.8),(0.11,0.19,8.3),(0.11,0.32,8.3),(0.22,0.32,8.4),(0.32,0.46,9.6),(0.43,0.50,7.05),
       (0.49,0.60,9.3),(0.54,0.67,7.05),(0.65,0.63,7.4),(0.65,0.70,9.3),(0.75,0.63,7.05),(0.80,0.81,9.3),
       (0.86,0.81,7.8),(0.97,0.53,7.05),(0.97,0.95,8.8),(1.08,1.01,7.8),(1.08,1.43,7.8),(1.14,1.08,8.8),
       (1.18,0.70,7.05),(1.29,1.22,8.8),(1.29,1.15,8.3),(1.40,0.81,7.05),(1.40,1.36,8.3),(1.44,1.36,9.3),
       (1.51,1.36,7.8),(1.61,0.91,7.05),(1.61,1.50,9.3),(1.72,1.50,7.8),(1.72,1.36,7.8),(1.78,1.05,7.05),
       (1.78,1.67,9.3),(1.83,1.22,7.8),(1.87,1.67,7.4),(1.94,1.84,9.3),(1.94,1.57,7.8),(1.94,1.15,7.5),
       (2.04,1.84,7.05),(2.09,1.98,9.3),(2.17,2.05,9.3),(2.26,2.12,9.3),(2.33,2.19,9.3),(2.41,2.26,9.3),
       (2.43,1.74,7.05),(2.47,1.81,7.05),(2.49,2.33,9.3),(2.56,2.39,9.3),(2.63,2.46,9.3),(2.69,2.53,9.3),
       (2.76,2.60,9.2),(2.84,2.67,9.1),(2.91,2.74,9.2),(2.97,2.81,9.3),(3.05,2.88,9.6),(3.12,2.95,9.9),
       (3.19,3.02,9.9),(3.23,2.74,9.3),(3.27,3.08,9.9),(3.33,2.88,9.9),(3.44,3.05,9.9),(3.55,3.26,9.3),
       (3.60,3.33,9.3),(3.66,3.40,9.3),(3.71,3.47,9.3),(3.76,3.53,9.2),(3.82,3.59,9.6),(3.87,3.64,9.9),
       (3.95,3.69,9.9),(4.02,3.74,9.9),(4.10,3.79,9.9),(4.19,3.84,9.9),(4.28,3.93,9.95),(4.37,4.02,9.95),
       (4.45,4.09,9.95),(4.52,4.15,9.95),(4.60,4.22,9.95),(4.69,4.29,9.95)]

tio1 = [(0.0014,0.0052,9.95),(0.0024,0.0073,9.9),(0.0038,0.0073,8.4),(0.0053,0.0083,7.8),(0.0024,0.0103,7.8),
        (0.0038,0.0093,8.8),(0.0053,0.0113,8.5),(0.0063,0.0108,8.3),(0.0072,0.0128,8.4),(0.0087,0.0164,8.4),
        (0.0091,0.0143,9.3),(0.0110,0.0159,8.8),(0.0087,0.0209,7.8),(0.0110,0.0229,7.05),(0.0135,0.0179,9.3),
        (0.0135,0.0250,7.8),(0.0159,0.0194,9.3),(0.0159,0.0275,7.1),(0.0183,0.0295,7.8),(0.0197,0.0209,9.3),
        (0.0197,0.0315,7.1),(0.0207,0.0335,7.5),(0.0221,0.0356,7.1),(0.0230,0.0224,9.3),(0.0230,0.0376,7.7),
        (0.0240,0.0386,7.1),(0.0255,0.0239,9.3),(0.0279,0.0255,9.9),(0.0279,0.0295,7.8),(0.0293,0.0325,7.8),
        (0.0313,0.0270,9.9),(0.0327,0.0356,7.1),(0.0341,0.0285,9.95),(0.0341,0.0366,7.8),(0.0370,0.0290,9.95),
        (0.0375,0.0386,7.1),(0.0399,0.0406,7.8),(0.0409,0.0432,7.7),(0.0423,0.0416,7.1),(0.0438,0.0462,7.1),
        (0.0447,0.0477,7.4),(0.0462,0.0447,7.1),(0.0471,0.0411,7.05),(0.0495,0.0401,7.1),(0.0519,0.0528,7.1),
        (0.0553,0.0568,7.1),(0.0567,0.0404,7.1),(0.0591,0.0614,7.1),(0.0630,0.0649,7.3),(0.0663,0.0404,7.1),
        (0.0712,0.0391,7.1),(0.0736,0.0376,7.05),(0.0793,0.0386,7.05),(0.0976,0.0411,7.05),(0.1072,0.0416,7.05)]

tio2 = [(0.002,-0.0035,7.8),(0.005,0.0015,9.95),(0.0086,0.0065,9.9),(0.011,0.0139,7.05),(0.011,0.0177,8.1),
        (0.013,0.0114,8.8),(0.014,0.0189,7.8),(0.017,0.0164,8.8),(0.018,0.0251,7.05),(0.018,0.0276,8.8),
        (0.021,0.0214,8.8),(0.021,0.0301,7.8),(0.025,0.0351,7.05),(0.026,0.0264,8.8),(0.029,0.0264,8.3),
        (0.029,0.040,7.8),(0.030,0.0313,8.8),(0.032,0.045,7.4),(0.034,0.0363,9.2),(0.036,0.050,7.8),
        (0.036,0.0338,8.8),(0.039,0.0413,9.3),(0.039,0.055,7.8),(0.043,0.060,7.05),(0.044,0.045,9.3),
        (0.046,0.0649,7.8),(0.049,0.0488,9.3),(0.050,0.0699,7.8),(0.054,0.0525,9.3),(0.054,0.0649,7.8),
        (0.054,0.0749,7.8),(0.057,0.0774,7.05),(0.059,0.055,9.3),(0.061,0.0724,7.8),(0.064,0.0575,9.9),
        (0.064,0.0662,7.8),(0.064,0.0799,7.05),(0.068,0.060,9.3),(0.071,0.0624,9.9),(0.071,0.0848,7.05),
        (0.075,0.0649,9.95),(0.075,0.0799,7.05),(0.079,0.0674,9.95),(0.079,0.0873,7.8),(0.082,0.0687,9.95),
        (0.082,0.0973,7.4),(0.084,0.101,7.8),(0.086,0.0985,7.05),(0.093,0.0873,7.05),(0.099,0.112,7.05),
        (0.107,0.0873,7.05),(0.107,0.125,7.05),(0.114,0.0836,7.05),(0.114,0.136,7.3),(0.121,0.0848,7.05),
        (0.121,0.145,7.5),(0.146,0.0917,7.05),(0.161,0.0935,7.05)]

panel_names = ["B4000", "Ca4227", "Ca4455", "CaHK", "CN1",
               "CN2", "Fe4383", "Fe4531", "Fe4668", "Fe5015",
               "Fe5270", "Fe5335", "Fe5406", "Fe5709", "Fe5782",
               "G4300", "H103798", "H83889", "H93835", "Hbeta",
               "HdeltaA", "HdeltaF", "HgammaA", "HgammaF", "Mg1",
               "Mg2", "Mgb", "NaD", "TiO1", "TiO2"]
panel_data = [b4000, ca4227, ca4455, cahk, cn1, cn2, fe4383, fe4531, fe4668, fe5015,
              fe5270, fe5335, fe5406, fe5709, fe5782, g4300, h103798, h83889, h93835, hbeta,
              hdeltaa, hdeltaf, hgammaa, hgammaf, mg1, mg2, mgb, nad, tio1, tio2]

x_breaks = [[1.0, 1.5, 2.0, 2.5], [0, 1, 2, 3], [0.0, 0.5, 1.0, 1.5, 2.0, 2.5], [0.1, 0.2, 0.3], [-0.2, -0.1, 0.0],
            [-0.1, 0.0, 0.1], [0, 2, 4, 6, 8], [0, 1, 2, 3, 4, 5], [0, 1, 2, 3, 4], [0, 2, 4, 6, 8],
            [0, 1, 2, 3, 4, 5], [0, 1, 2, 3, 4], [0, 1, 2, 3], [0.0, 0.5, 1.0, 1.5], [0.0, 0.5, 1.0],
            [0.0, 2.5, 5.0, 7.5], [2, 3, 4, 5, 6], [2.5, 5.0, 7.5, 10.0], [4, 6, 8], [2, 4, 6, 8],
            [-5, 0, 5, 10], [0, 3, 6], [-10, -5, 0, 5, 10], [-4, 0, 4, 8], [0.00, 0.05, 0.10, 0.15],
            [0.0, 0.1, 0.2, 0.3], [0, 1, 2, 3, 4, 5], [0, 1, 2, 3, 4], [0.00, 0.03, 0.06, 0.09], [0.00, 0.05, 0.10, 0.15]]
y_breaks = [[1.2, 1.6, 2.0], [0, 1, 2], [0.0, 0.5, 1.0, 1.5, 2.0, 2.5], [0.05, 0.10, 0.15, 0.20, 0.25, 0.30], [-0.2, -0.1, 0.0, 0.1],
            [-0.1, 0.0, 0.1], [0, 2, 4, 6], [0, 1, 2, 3, 4], [0, 2, 4, 6, 8], [0, 2, 4, 6],
            [0, 1, 2, 3, 4], [0, 1, 2, 3, 4], [0, 1, 2], [0.0, 0.5, 1.0], [0.0, 0.4, 0.8, 1.2],
            [-2, 0, 2, 4, 6], [2, 3, 4, 5, 6], [4, 6, 8], [4, 6, 8], [2, 4, 6, 8],
            [-5, 0, 5, 10], [0, 2, 4, 6, 8], [-5, 0, 5, 10], [-3, 0, 3, 6], [0.000, 0.025, 0.050, 0.075, 0.100, 0.125],
            [0.0, 0.1, 0.2, 0.3], [0, 1, 2, 3, 4, 5], [0, 1, 2, 3, 4], [0.02, 0.04, 0.06], [0.00, 0.05, 0.10, 0.15]]

age_limits = (7, 10)

# ---- layout (pixels of the 3600x4800 canvas) ----
W, H = 3600, 4800
col_left = [151, 767, 1410, 2066, 2739]
row_top = [166, 941, 1715, 2489, 3263, 4037]
pw, ph = 556, 636
grid_col = '#ebebeb'

cmap = plt.get_cmap('plasma_r')
norm = Normalize(vmin=age_limits[0], vmax=age_limits[1])


def n_decimals(vals):
    for d in range(6):
        if all(abs(round(v, d) - v) < 1e-9 for v in vals):
            return d
    return 6


def minor_breaks(major, lo, hi):
    step = major[1] - major[0]
    start = major[0] - step / 2
    while start - step >= lo:
        start -= step
    out = []
    v = start
    while v <= hi:
        if v >= lo:
            out.append(v)
        v += step
    return out


fig = plt.figure(figsize=(12, 16), dpi=300)

for i, (name, pts) in enumerate(zip(panel_names, panel_data)):
    r, c = divmod(i, 5)
    ax = fig.add_axes([col_left[c] / W, 1 - (row_top[r] + ph) / H, pw / W, ph / H])
    arr = np.array(pts)
    xs, ys, ages = arr[:, 0], arr[:, 1], arr[:, 2]
    ax.scatter(xs, ys, c=ages, cmap=cmap, norm=norm, s=36, alpha=0.7, linewidths=0, zorder=2)
    ax.axline((0, 0), slope=1, color='blue', lw=2.1, dashes=(4, 4), zorder=3)

    xr = xs.max() - xs.min()
    yr = ys.max() - ys.min()
    xlo, xhi = xs.min() - 0.05 * xr, xs.max() + 0.05 * xr
    ylo, yhi = ys.min() - 0.05 * yr, ys.max() + 0.05 * yr
    ax.set_xlim(xlo, xhi)
    ax.set_ylim(ylo, yhi)

    xb, yb = x_breaks[i], y_breaks[i]
    dx, dy = n_decimals(xb), n_decimals(yb)
    ax.set_xticks(xb, labels=[f"{v:.{dx}f}" for v in xb])
    ax.set_yticks(yb, labels=[f"{v:.{dy}f}" for v in yb])
    ax.set_xticks(minor_breaks(xb, xlo, xhi), minor=True)
    ax.set_yticks(minor_breaks(yb, ylo, yhi), minor=True)
    ax.grid(which='major', color=grid_col, lw=1.07)
    ax.grid(which='minor', color=grid_col, lw=0.53)
    ax.set_axisbelow(True)
    ax.tick_params(which='both', length=0)
    ax.tick_params(which='major', labelsize=6.8, labelcolor='#4d4d4d', pad=4.9)
    for s in ax.spines.values():
        s.set_visible(False)
    ax.set_title(name, fontsize=7.9, color='#1a1a1a', pad=5)

fig.text(152 / W, 1 - 46 / H,
         "Figure 8: Spectral indices predicted by SPS-C (y-axis) versus SPS-S (x-axis) models.",
         fontsize=13.8, fontweight='bold', ha='left', va='center')
fig.text(1723 / W, 1 - 4750 / H, "SPS-S", fontsize=12, ha='center', va='center')
fig.text(42 / W, 1 - 2420 / H, "SPS-C", fontsize=12, ha='center', va='center', rotation=90)

# colour legend
fig.text(3367 / W, 1 - 2230 / H, "log age (yr)", fontsize=8.9, ha='left', va='center')
cax = fig.add_axes([3367 / W, 1 - 2625 / H, 69 / W, 355 / H])
cb = fig.colorbar(ScalarMappable(norm=norm, cmap=cmap), cax=cax)
cb.outline.set_visible(False)
cb.set_ticks([7, 8, 9, 10])
cb.set_ticklabels(["7", "8", "9", "10"])
cax.tick_params(left=True, right=True, direction='in', length=3.3, width=0.9, color='white',
                labelsize=7.4, pad=5.5)

fig.savefig("out.png", dpi=300, facecolor='white')
